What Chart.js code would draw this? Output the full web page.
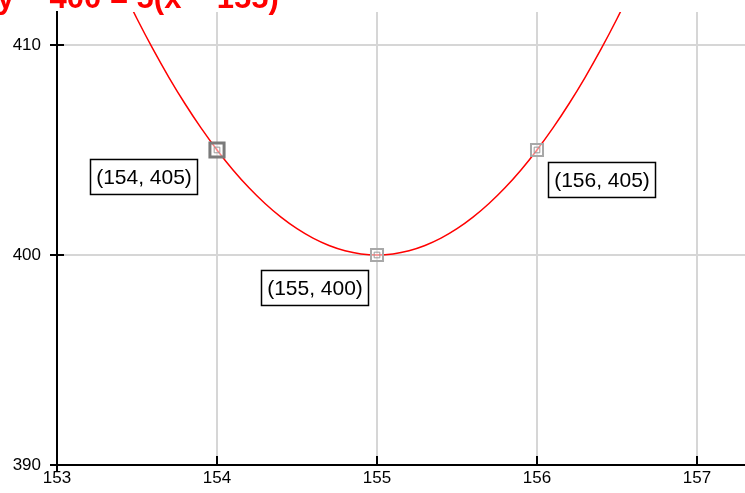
<!DOCTYPE html>
<html lang="en">
<head>
    <meta charset="UTF-8">
    <title>Parabola</title>
    <script src="https://cdn.jsdelivr.net/npm/chart.js"></script>
    <style>
        html, body { margin: 0; padding: 0; background: #fff; }
        #wrap { width: 745px; height: 493px; }
    </style>
</head>
<body>
    <div id="wrap"><canvas id="parabolaChart" width="745" height="493"></canvas></div>
    <script>
        const titleText = 'y \u2212 400 = 5(x \u2212 155)\u00B2';

        // red curve
        const curveX = [153.4, 153.5, 153.6, 153.7, 153.8, 153.9, 154.0, 154.1, 154.2, 154.3, 154.4, 154.5, 154.6, 154.7, 154.8, 154.9,
                        155.0, 155.1, 155.2, 155.3, 155.4, 155.5, 155.6, 155.7, 155.8, 155.9, 156.0, 156.1, 156.2, 156.3, 156.4, 156.5, 156.6];
        const curveY = [412.8, 411.25, 409.8, 408.45, 407.2, 406.05, 405, 404.05, 403.2, 402.45, 401.8, 401.25, 400.8, 400.45, 400.2, 400.05,
                        400, 400.05, 400.2, 400.45, 400.8, 401.25, 401.8, 402.45, 403.2, 404.05, 405, 406.05, 407.2, 408.45, 409.8, 411.25, 412.8];

        // marked points
        const markX = [154, 155, 156];
        const markY = [405, 400, 405];
        const markLabels = ['(154, 405)', '(155, 400)', '(156, 405)'];

        const xTickValues = [153, 154, 155, 156, 157];
        const yTickValues = [390, 400, 410];

        // label box offsets from their point (px)
        const boxOffsets = [[-73, 27], [-62, 33], [65, 30]];

        const toXY = (xs, ys) => xs.map((x, i) => ({ x: x, y: ys[i] }));

        const innerTicks = {
            id: 'innerTicks',
            afterDraw(chart) {
                const ctx = chart.ctx;
                const area = chart.chartArea;
                const xs = chart.scales.x, ys = chart.scales.y;
                ctx.save();
                ctx.strokeStyle = '#000';
                ctx.lineWidth = 2;
                ctx.beginPath();
                ys.ticks.forEach(t => {
                    const p = Math.round(ys.getPixelForValue(t.value));
                    ctx.moveTo(area.left, p);
                    ctx.lineTo(area.left + 7, p);
                });
                xs.ticks.forEach(t => {
                    const p = Math.round(xs.getPixelForValue(t.value));
                    ctx.moveTo(p, area.bottom);
                    ctx.lineTo(p, area.bottom - 9);
                });
                // y axis runs a bit past the x axis
                ctx.moveTo(area.left, area.bottom);
                ctx.lineTo(area.left, area.bottom + 6);
                ctx.stroke();
                ctx.restore();
            }
        };

        const pointBoxes = {
            id: 'pointBoxes',
            afterDraw(chart) {
                const ctx = chart.ctx;
                const meta = chart.getDatasetMeta(1);
                ctx.save();
                ctx.font = '21px "Liberation Sans", Arial, sans-serif';
                ctx.textAlign = 'center';
                ctx.textBaseline = 'middle';
                meta.data.forEach((pt, i) => {
                    const cx = pt.x + boxOffsets[i][0];
                    const cy = pt.y + boxOffsets[i][1];
                    const w = 107, h = 35;
                    ctx.fillStyle = '#fff';
                    ctx.fillRect(cx - w / 2, cy - h / 2, w, h);
                    ctx.strokeStyle = '#000';
                    ctx.lineWidth = 1.5;
                    ctx.strokeRect(cx - w / 2, cy - h / 2, w, h);
                    ctx.fillStyle = '#000';
                    ctx.fillText(markLabels[i], cx, cy + 1);
                });
                ctx.restore();
            }
        };

        const topTitle = {
            id: 'topTitle',
            afterDraw(chart) {
                const ctx = chart.ctx;
                ctx.save();
                ctx.font = 'bold 31px "Liberation Sans", Arial, sans-serif';
                ctx.fillStyle = '#ff0000';
                ctx.textAlign = 'left';
                ctx.textBaseline = 'alphabetic';
                ctx.fillText(titleText, -3, 8);
                ctx.restore();
            }
        };

        const ctx = document.getElementById('parabolaChart').getContext('2d');
        const chart = new Chart(ctx, {
            type: 'scatter',
            data: {
                datasets: [{
                    label: 'curve',
                    data: toXY(curveX, curveY),
                    showLine: true,
                    borderColor: '#ff0000',
                    borderWidth: 1.5,
                    pointRadius: 0,
                    tension: 0.4,
                    cubicInterpolationMode: 'monotone',
                    order: 2
                }, {
                    label: 'points',
                    data: toXY(markX, markY),
                    pointStyle: 'rect',
                    pointRadius: [10, 8.5, 8.5],
                    pointBorderWidth: [3, 2, 2],
                    pointBorderColor: ['#7a7a7a', '#a8a8a8', '#a8a8a8'],
                    pointBackgroundColor: 'rgba(255,255,255,0.5)',
                    order: 1
                }, {
                    label: 'inner',
                    data: toXY(markX, markY),
                    pointStyle: 'rect',
                    pointRadius: 4,
                    pointBorderWidth: 1,
                    pointBorderColor: '#999',
                    pointBackgroundColor: 'rgba(255,255,255,0)',
                    order: 0
                }]
            },
            options: {
                responsive: false,
                animation: false,
                events: [],
                layout: { autoPadding: false, padding: { top: 12, right: 0, left: 0, bottom: 0 } },
                plugins: {
                    legend: { display: false },
                    tooltip: { enabled: false }
                },
                scales: {
                    x: {
                        type: 'linear',
                        min: 153,
                        max: 157.3,
                        afterBuildTicks: scale => { scale.ticks = xTickValues.map(v => ({ value: v })); },
                        afterFit: scale => {
                            scale.height = 28;
                            scale.paddingLeft = 0;
                            scale.paddingRight = 0;
                        },
                        border: { color: '#000', width: 2 },
                        grid: { color: '#d6d6d6', lineWidth: 2, drawTicks: false },
                        ticks: {
                            color: '#000',
                            padding: 3,
                            maxRotation: 0,
                            font: { family: '"Liberation Sans", Arial, sans-serif', size: 17 }
                        }
                    },
                    y: {
                        type: 'linear',
                        min: 390,
                        max: 411.57,
                        afterBuildTicks: scale => { scale.ticks = yTickValues.map(v => ({ value: v })); },
                        afterFit: scale => {
                            scale.width = 57;
                            scale.paddingTop = 0;
                            scale.paddingBottom = 0;
                        },
                        border: { color: '#000', width: 2 },
                        grid: { color: '#d6d6d6', lineWidth: 2, tickLength: 7, tickColor: '#000', tickWidth: 2 },
                        ticks: {
                            color: '#000',
                            padding: 9,
                            font: { family: '"Liberation Sans", Arial, sans-serif', size: 17 }
                        }
                    }
                }
            },
            plugins: [innerTicks, pointBoxes, topTitle]
        });
    </script>
</body>
</html>
